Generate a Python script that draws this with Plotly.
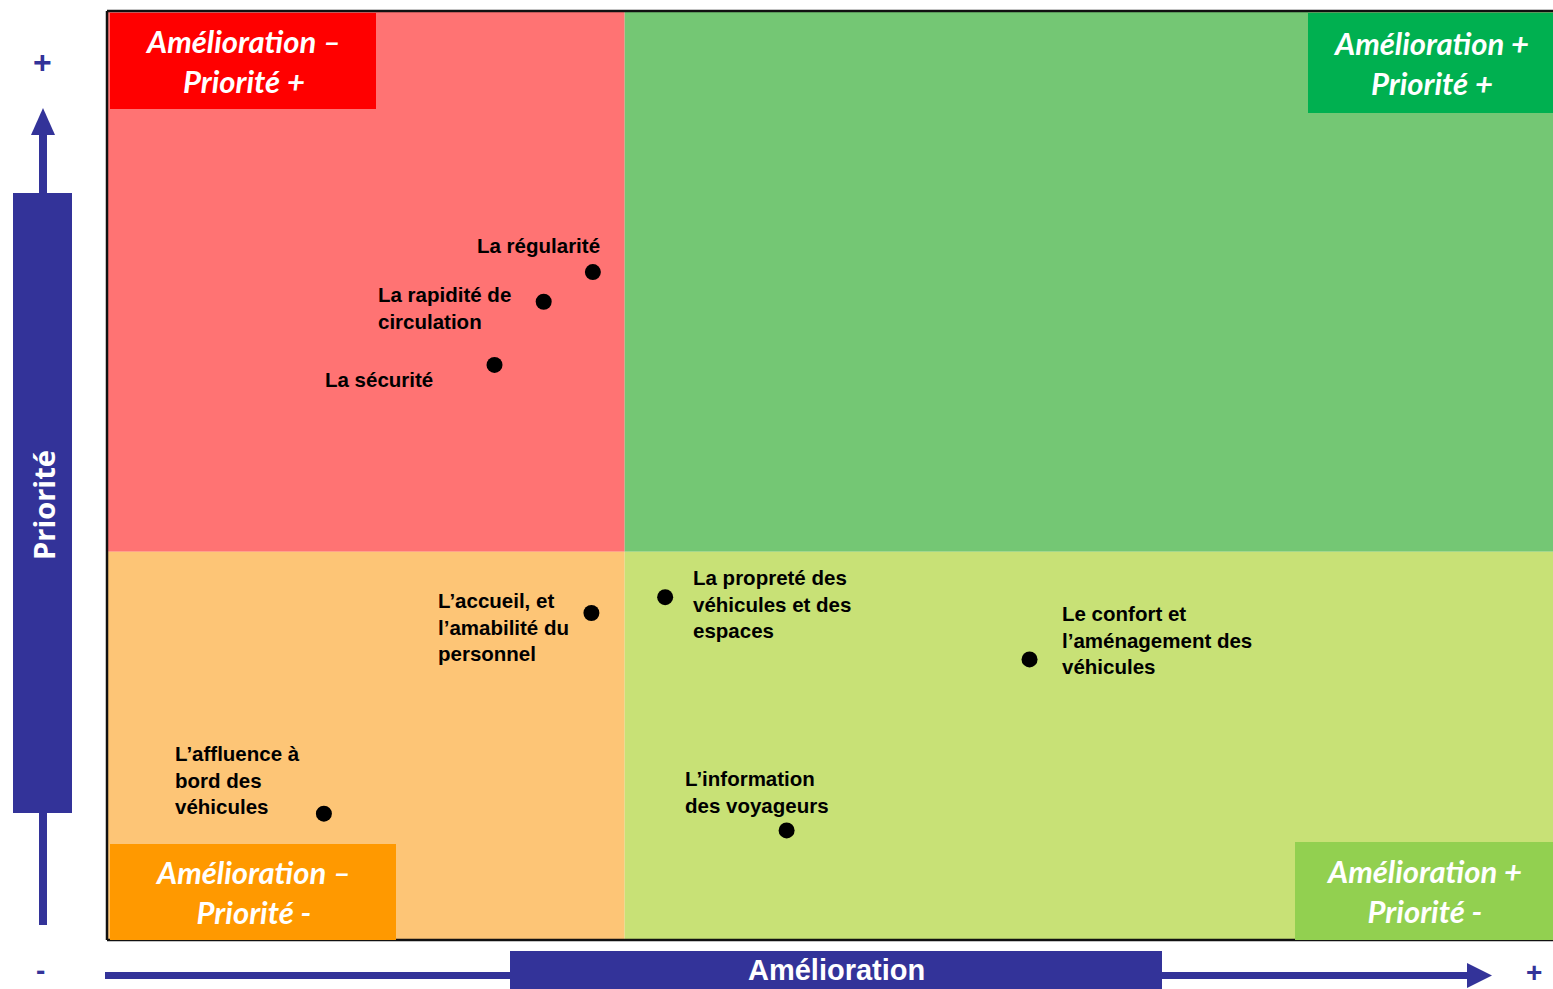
import plotly.graph_objects as go

# ---------------- data ----------------
items = [
    "La régularité",
    "La rapidité de<br>circulation",
    "La sécurité",
    "L’accueil, et<br>l’amabilité du<br>personnel",
    "La propreté des<br>véhicules et des<br>espaces",
    "Le confort et<br>l’aménagement des<br>véhicules",
    "L’affluence à<br>bord des<br>véhicules",
    "L’information<br>des voyageurs",
]
amelioration = [33.6, 30.2, 26.8, 33.5, 38.6, 63.8, 15.0, 47.0]
priorite = [71.9, 68.7, 61.9, 35.2, 36.9, 30.2, 13.6, 11.8]
x_split = 35.8
y_split = 41.8
x_range = [0, 100]
y_range = [0, 100]

quadrant_titles = {
    "tl": "Amélioration –<br>Priorité +",
    "tr": "Amélioration +<br>Priorité +",
    "bl": "Amélioration –<br>Priorité -",
    "br": "Amélioration +<br>Priorité -",
}

# ---------------- style ----------------
W, H = 1553, 989
ML, MR, MT, MB = 107, 0, 11, 49
PW, PH = W - ML - MR, H - MT - MB
BLUE = "#333399"

def fx(px):
    return (px - ML) / PW

def fy(py):
    return (H - MB - py) / PH

# label placement (xanchor, xshift px, yshift px)
label_pos = [
    ("right", 9, 27),
    ("left", -168, -6),
    ("left", -172, -15),
    ("left", -155, -14),
    ("left", 26, -7),
    ("left", 30, 19),
    ("left", -151, 34),
    ("left", -104, 38),
]

fig = go.Figure()
fig.add_trace(go.Scatter(
    x=amelioration, y=priorite, mode="markers",
    marker=dict(size=16, color="black"),
    hovertext=[t.replace("<br>", " ") for t in items], hoverinfo="text",
    showlegend=False, cliponaxis=False,
))

shapes = []
# quadrant backgrounds
quad_colors = {"tl": "#FF7373", "tr": "#74C774", "bl": "#FDC576", "br": "#C8E176"}
quad_bounds = {
    "tl": (x_range[0], x_split, y_split, y_range[1]),
    "tr": (x_split, x_range[1], y_split, y_range[1]),
    "bl": (x_range[0], x_split, y_range[0], y_split),
    "br": (x_split, x_range[1], y_range[0], y_split),
}
for k, (x0, x1, y0, y1) in quad_bounds.items():
    shapes.append(dict(type="rect", xref="x", yref="y", x0=x0, x1=x1, y0=y0, y1=y1,
                       fillcolor=quad_colors[k], line=dict(width=0), layer="below"))

# plot border (left, top, bottom)
for (x0, y0, x1, y1) in [(0, 0, 0, 1), (0, 1, 1, 1), (0, 0, 1, 0)]:
    shapes.append(dict(type="line", xref="paper", yref="paper", x0=x0, y0=y0, x1=x1, y1=y1,
                       line=dict(color="#111111", width=2.5)))

# corner title boxes
box_px = {
    "tl": (110, 376, 13, 109, "#FF0000"),
    "tr": (1308, 1553, 13, 113, "#00B050"),
    "bl": (110, 396, 844, 940, "#FF9900"),
    "br": (1295, 1553, 842, 940, "#92D050"),
}
annotations = []
for k, (x0, x1, y0, y1, c) in box_px.items():
    shapes.append(dict(type="rect", xref="paper", yref="paper",
                       x0=fx(x0), x1=fx(x1), y0=fy(y1), y1=fy(y0),
                       fillcolor=c, line=dict(width=0)))
    annotations.append(dict(
        xref="paper", yref="paper", x=fx((x0 + x1) / 2), y=fy((y0 + y1) / 2),
        text=quadrant_titles[k], showarrow=False, xanchor="center", yanchor="middle",
        font=dict(family="Lato, Carlito, sans-serif", size=31, color="white",
                  weight="bold", style="italic"),
    ))

def deco_text(px, py, text, size, color, family="Arial", angle=0):
    annotations.append(dict(xref="paper", yref="paper", x=fx(px), y=fy(py),
                            text=text, textangle=angle, showarrow=False,
                            xanchor="center", yanchor="middle",
                            font=dict(family=family, size=size, color=color)))

# vertical axis arrow (Priorité)
shapes.append(dict(type="line", xref="paper", yref="paper",
                   x0=fx(43), x1=fx(43), y0=fy(925), y1=fy(130),
                   line=dict(color=BLUE, width=8)))
shapes.append(dict(type="path", xref="paper", yref="paper",
                   path=f"M {fx(43)} {fy(108)} L {fx(31)} {fy(135)} L {fx(55)} {fy(135)} Z",
                   fillcolor=BLUE, line=dict(width=0)))
shapes.append(dict(type="rect", xref="paper", yref="paper",
                   x0=fx(13), x1=fx(72), y0=fy(813), y1=fy(193),
                   fillcolor=BLUE, line=dict(width=0)))
deco_text(43, 505, "<b>Priorité</b>", 29, "white", "Open Sans, Arial", -90)
deco_text(42, 62, "<b>+</b>", 32, BLUE)
deco_text(40, 970, "<b>-</b>", 28, BLUE)

# horizontal axis arrow (Amélioration)
shapes.append(dict(type="line", xref="paper", yref="paper",
                   x0=fx(105), x1=fx(1472), y0=fy(975.5), y1=fy(975.5),
                   line=dict(color=BLUE, width=7)))
shapes.append(dict(type="path", xref="paper", yref="paper",
                   path=f"M {fx(1492)} {fy(975.5)} L {fx(1467)} {fy(963)} L {fx(1467)} {fy(988)} Z",
                   fillcolor=BLUE, line=dict(width=0)))
shapes.append(dict(type="rect", xref="paper", yref="paper",
                   x0=fx(510), x1=fx(1162), y0=fy(1000), y1=fy(951),
                   fillcolor=BLUE, line=dict(width=0)))
deco_text(836, 970, "<b>Amélioration</b>", 29, "white", "Liberation Sans, Arial")
deco_text(1534, 972, "<b>+</b>", 28, BLUE)

# point labels
for t, xv, yv, (xa, xs, ys) in zip(items, amelioration, priorite, label_pos):
    annotations.append(dict(
        x=xv, y=yv, xref="x", yref="y", text=f"<b>{t}</b>", showarrow=False,
        xanchor=xa, yanchor="middle", align=xa, xshift=xs, yshift=ys,
        font=dict(family="Liberation Sans, Arial", size=20.5, color="black"),
    ))

fig.update_layout(
    width=W, height=H,
    margin=dict(l=ML, r=MR, t=MT, b=MB, pad=0, autoexpand=False),
    paper_bgcolor="white", plot_bgcolor="white",
    xaxis=dict(range=x_range, visible=False, fixedrange=True),
    yaxis=dict(range=y_range, visible=False, fixedrange=True),
    shapes=shapes, annotations=annotations, showlegend=False,
)

fig.write_html(
    "out.html",
    config={"displayModeBar": False},
    post_script="document.body.style.margin='0px';document.body.style.overflow='hidden';",
)
